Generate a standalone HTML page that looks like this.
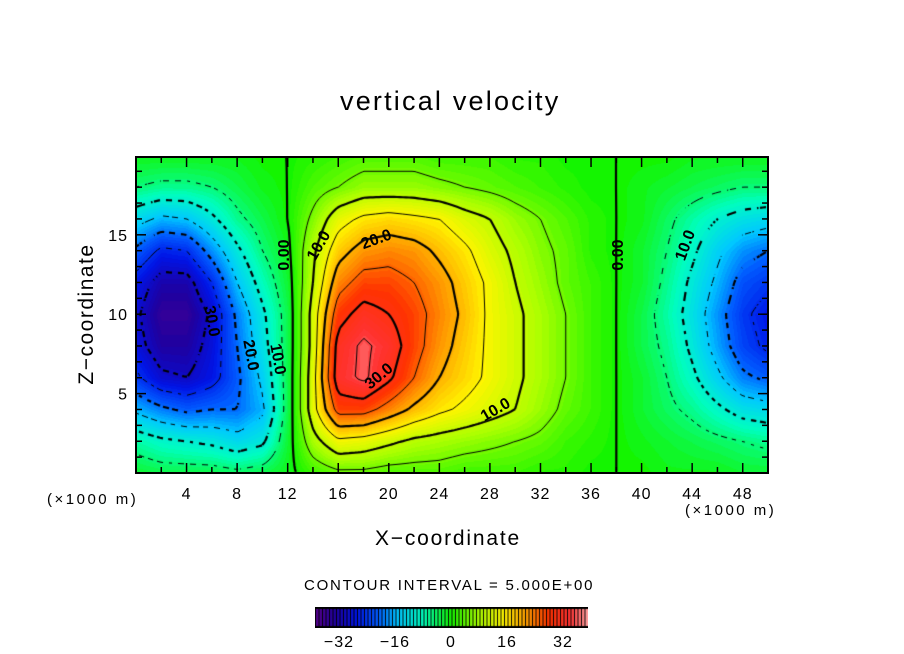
<!DOCTYPE html>
<html><head><meta charset="utf-8"><style>
html,body{margin:0;padding:0;background:#fff;width:904px;height:654px;overflow:hidden;font-family:"Liberation Sans",sans-serif;}
#wrap{position:relative;width:904px;height:654px;}
.t{position:absolute;color:#000;white-space:nowrap;}
canvas{position:absolute;}
</style></head><body>
<div id="wrap">
<div class="t" style="left:340px;top:86px;font-size:27px;letter-spacing:2.2px">vertical velocity</div>
<canvas id="plot" width="632" height="316" style="left:136px;top:157px"></canvas>
<svg id="ax" width="904" height="654" style="position:absolute;left:0;top:0"></svg>
<div class="t" style="left:7px;top:302px;font-size:21px;letter-spacing:1.5px;transform:rotate(-90deg);transform-origin:center;width:160px;text-align:center">Z−coordinate</div>
<div class="t" style="left:375px;top:527px;font-size:21px;letter-spacing:1.8px">X−coordinate</div>
<div class="t" style="left:47px;top:491px;font-size:15px;letter-spacing:2.5px">(×1000 m)</div>
<div class="t" style="left:685px;top:502px;font-size:15px;letter-spacing:2.5px">(×1000 m)</div>
<div class="t" style="left:304px;top:577px;font-size:15px;letter-spacing:1.75px">CONTOUR INTERVAL = 5.000E+00</div>
<canvas id="cbar" width="273" height="21" style="left:315px;top:607px"></canvas>
</div>
<script>
const xCoords=[0,2,4,6,8,10,12,14,16,18,20,22,24,26,28,30,32,34,36,38,40,42,44,46,48,50];
const zCoords=[0,2,4,6,8,10,12,14,16,18,20];
const wRow0 =[-2,-3,-3,-3,-4,-3,-1,2,4,4,3,3,3,2,2,2,1,1,0,0,0,-1,-1,-1,-2,-2];
const wRow2 =[-7,-9,-10,-11,-13,-11,-2,8,14,13,11,9,8,7,6,5,4,2,1,0,-1,-2,-3,-4,-5,-6];
const wRow4 =[-16,-19,-21,-20,-20,-16,-3,13,27,27,23,19,16,14,12,10,7,4,2,0,-2,-4,-6,-9,-12,-13];
const wRow6 =[-24,-29,-30,-27,-21,-14,-3,13,33,36,31,25,20,17,14,11,8,5,2,0,-2,-5,-9,-14,-19,-21];
const wRow8 =[-28,-33,-33,-28,-20,-12,-3,12,32,36,33,27,22,18,14,11,8,5,2,0,-3,-6,-11,-17,-23,-26];
const wRow10=[-29,-35,-35,-29,-19,-11,-3,12,28,32,30,27,23,19,14,11,8,5,2,0,-3,-7,-12,-18,-24,-27];
const wRow12=[-27,-32,-32,-25,-15,-8,-2,10,23,27,27,25,22,18,14,10,7,4,2,0,-2,-6,-11,-16,-22,-24];
const wRow14=[-21,-26,-25,-18,-11,-5,-1,9,18,22,23,22,19,16,12,9,6,4,1,0,-2,-5,-9,-14,-18,-20];
const wRow16=[-13,-16,-15,-11,-6,-3,0,6,13,16,17,16,15,12,10,7,5,3,1,0,-1,-4,-7,-10,-12,-13];
const wRow18=[-5,-6,-6,-5,-3,-1,0,3,5,7,7,7,6,5,4,3,2,1,0,0,-1,-2,-3,-4,-5,-5];
const wRow20=[-1,-1,-1,-1,-1,0,0,1,2,3,3,3,2,2,2,1,1,0,0,0,0,0,-1,-1,-1,-1];
const rows=[wRow0,wRow2,wRow4,wRow6,wRow8,wRow10,wRow12,wRow14,wRow16,wRow18,wRow20];
const xTickLabels=[4,8,12,16,20,24,28,32,36,40,44,48];
const zTickLabels=[5,10,15];
const cbarLabels=[-32,-16,0,16,32];
const levels=[-35,-30,-25,-20,-15,-10,-5,0,5,10,15,20,25,30,35];

const PX0=136,PY0=157,PW=632,PH=316,XMAX=50,ZMAX=19.9;
function sx(x){return PX0+x/XMAX*PW;}
function sy(z){return PY0+PH-z/ZMAX*PH;}
const stops=[[-39,[90,0,140]],[-33,[30,0,160]],[-27,[0,20,230]],[-21,[0,90,255]],[-15,[0,200,255]],[-8,[0,255,190]],[0,[20,245,0]],[8,[170,255,0]],[15,[255,245,0]],[22,[255,150,0]],[28,[255,50,0]],[34,[255,50,50]],[39,[255,160,160]]];
function col(v){
  if(v<=stops[0][0])return stops[0][1];
  for(let i=1;i<stops.length;i++){if(v<=stops[i][0]){const a=stops[i-1],b=stops[i],t=(v-a[0])/(b[0]-a[0]);return a[1].map((c,k)=>Math.round(c+(b[1][k]-c)*t));}}
  return stops[stops.length-1][1];
}
function field(x,z){
  let fx=x/2,fz=z/2;fx=Math.max(0,Math.min(24.999,fx));fz=Math.max(0,Math.min(9.999,fz));
  const i=Math.floor(fx),j=Math.floor(fz),tx=fx-i,tz=fz-j;
  const a=rows[j][i],b=rows[j][i+1],c=rows[j+1][i],d=rows[j+1][i+1];
  return (a*(1-tx)+b*tx)*(1-tz)+(c*(1-tx)+d*tx)*tz;
}
const cv=document.getElementById('plot'),ctx=cv.getContext('2d');
const img=ctx.createImageData(PW,PH);
for(let py=0;py<PH;py++){for(let px=0;px<PW;px++){
  const v=field(px/PW*XMAX,(PH-py)/PH*ZMAX);const q=Math.round(v*1.2)/1.2;const c=col(q);const o=(py*PW+px)*4;
  img.data[o]=c[0];img.data[o+1]=c[1];img.data[o+2]=c[2];img.data[o+3]=255;}}
ctx.putImageData(img,0,0);
const S=3,NX=Math.floor(PW/S)+1,NY=Math.floor(PH/S)+1;const G=[];
for(let j=0;j<NY;j++){G[j]=[];for(let i=0;i<NX;i++)G[j][i]=field(i*S/PW*XMAX,(PH-j*S)/PH*ZMAX);}
levels.forEach(L=>{
  ctx.beginPath();ctx.strokeStyle='#000';ctx.lineWidth=(L%10===0)?2.2:1;
  for(let j=0;j<NY-1;j++)for(let i=0;i<NX-1;i++){
    if(L<0 && ((i+j)%4)>=2)continue;
    const v=[G[j][i],G[j][i+1],G[j+1][i+1],G[j+1][i]];const p=[[i,j],[i+1,j],[i+1,j+1],[i,j+1]];
    const pts=[];
    for(let e=0;e<4;e++){const a=v[e],b=v[(e+1)%4];if((a<L)!==(b<L)){const t=(L-a)/(b-a);const A=p[e],B=p[(e+1)%4];pts.push([(A[0]+(B[0]-A[0])*t)*S,(A[1]+(B[1]-A[1])*t)*S]);}}
    for(let k=0;k+1<pts.length;k+=2){ctx.moveTo(pts[k][0],pts[k][1]);ctx.lineTo(pts[k+1][0],pts[k+1][1]);}
  }
  ctx.stroke();
});
const cb=document.getElementById('cbar'),cc=cb.getContext('2d');
cc.fillStyle='#000';cc.fillRect(0,0,273,21);
for(let x=1;x<272;x+=3.5){const v=-39+(x+1.75)/273*78;const c=col(v);cc.fillStyle=`rgb(${c})`;cc.fillRect(x,2,2.5,17);}
const ns='http://www.w3.org/2000/svg',ax=document.getElementById('ax');
function el(t,a,txt){const e=document.createElementNS(ns,t);for(const k in a)e.setAttribute(k,a[k]);if(txt!==undefined)e.textContent=txt;ax.appendChild(e);return e;}
const fr=el('rect',{x:PX0,y:PY0,width:PW,height:PH,fill:'none',stroke:'#000','stroke-width':2});


for(let x=2;x<50;x+=2){const L=x%4===0?10:6;
  const t1=el('line',{x1:sx(x),x2:sx(x),y1:PY0+PH,y2:PY0+PH-L,stroke:'#000','stroke-width':1.5});
  
  
  el('line',{x1:sx(x),x2:sx(x),y1:PY0,y2:PY0+L,stroke:'#000','stroke-width':1.5});}
for(let z=1;z<20;z++){const L=z%5===0?10:6;
  const t2=el('line',{x1:PX0,x2:PX0+L,y1:sy(z),y2:sy(z),stroke:'#000','stroke-width':1.5});
  
  
  el('line',{x1:PX0+PW,x2:PX0+PW-L,y1:sy(z),y2:sy(z),stroke:'#000','stroke-width':1.5});}
xTickLabels.forEach(v=>{const t=el('text',{x:sx(v),y:499,'font-size':16,'letter-spacing':1,'text-anchor':'middle','font-family':'Liberation Sans'},v);
  
  });
zTickLabels.forEach(v=>{const t=el('text',{x:128,y:sy(v)+6,'font-size':16,'letter-spacing':1,'text-anchor':'end','font-family':'Liberation Sans'},v);
  
  });
cbarLabels.forEach(v=>{const t=el('text',{x:451+v*3.5,y:647,'font-size':16,'letter-spacing':1,'text-anchor':'middle','font-family':'Liberation Sans'},v<0?'−'+(-v):v);
  
  });
const cls=[[289,255,-90,'0.00'],[323,248,-60,'10.0'],[378,244,-20,'20.0'],[382,380,-40,'30.0'],[498,414,-30,'10.0'],[623,255,-90,'0.00'],[690,247,-70,'10.0'],[207,322,80,'30.0'],[246,356,80,'20.0'],[273,360,80,'10.0']];
cls.forEach(c=>{const t=el('text',{x:c[0],y:c[1],'font-size':16,'font-weight':'bold','text-anchor':'middle','font-family':'Liberation Sans',transform:`rotate(${c[2]} ${c[0]} ${c[1]})`},c[3]);
  
  });
</script>
</body></html>
